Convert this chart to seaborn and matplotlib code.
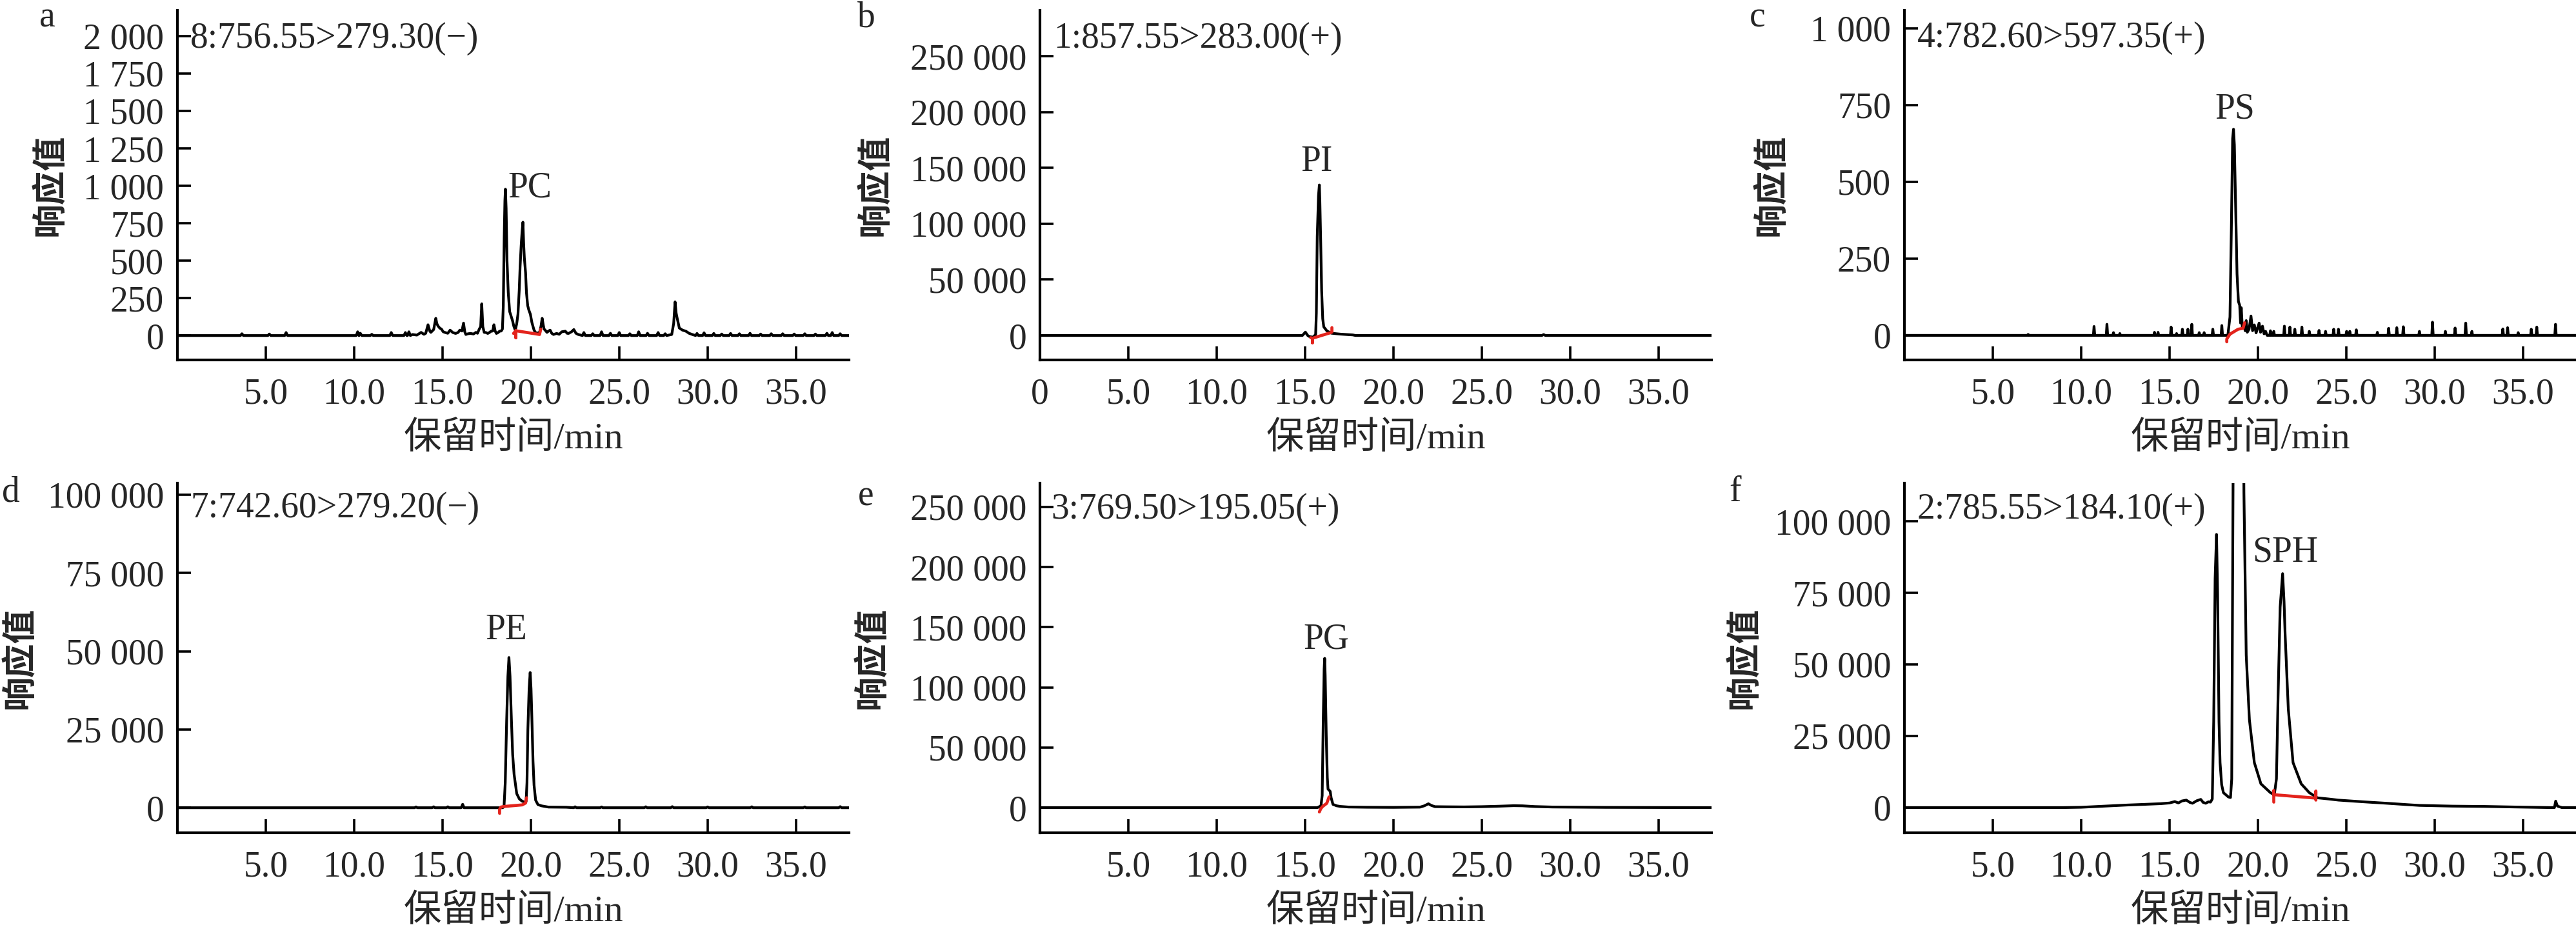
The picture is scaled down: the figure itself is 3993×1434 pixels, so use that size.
import matplotlib
matplotlib.use("Agg")
import matplotlib.pyplot as plt
import seaborn as sns

# ---- chromatogram traces (time in min, response) ----
a_time = [0, 13.30, 13.55, 13.79, 13.95, 14.05, 14.18, 14.28, 14.34, 14.50, 14.62, 14.68, 14.74, 14.84,
          14.94, 15.04, 15.13, 15.30, 15.43, 15.58, 15.74, 15.88, 15.98, 16.10, 16.19, 16.26, 16.32, 16.45,
          16.59, 16.75, 16.89, 16.98, 17.08, 17.16, 17.22, 17.28, 17.36, 17.46, 17.56, 17.65, 17.75, 17.84,
          17.91, 17.98, 18.05, 18.15, 18.23, 18.32, 18.39, 18.44, 18.49, 18.53, 18.56, 18.60, 18.65, 18.72,
          18.80, 18.88, 18.96, 19.04, 19.12, 19.20, 19.27, 19.34, 19.39, 19.45, 19.50, 19.55, 19.59, 19.63,
          19.70, 19.75, 19.82, 19.88, 19.97, 20.06, 20.18, 20.30, 20.40, 20.49, 20.57, 20.64, 20.70, 20.75,
          20.85, 20.91, 21.00, 21.09, 21.18, 21.28, 21.46, 21.60, 21.75, 21.95, 22.05, 22.13, 22.30, 22.43,
          22.55, 22.68, 27.97, 28.08, 28.16, 28.22, 28.28, 28.40, 28.58, 28.77, 28.95, 29.13, 38]
a_resp = [0, 7, 3, 21, 8, 15, 72, 30, 21, 40, 115, 80, 65, 50,
          43, 25, 21, 15, 36, 20, 14, 20, 36, 30, 83, 25, 7, 12,
          14, 10, 21, 15, 43, 60, 212, 60, 21, 20, 14, 20, 29, 30,
          72, 30, 14, 20, 29, 30, 43, 200, 650, 900, 978, 850, 500, 287,
          160, 130, 100, 60, 36, 80, 143, 300, 459, 600, 690, 757, 620, 520,
          420, 287, 200, 172, 143, 86, 36, 14, 18, 21, 60, 115, 70, 43,
          30, 21, 30, 36, 15, 7, 14, 8, 25, 29, 15, 14, 25, 40,
          15, 7, 7, 80, 225, 150, 115, 50, 36, 29, 15, 7, 0]
a_spike_time = [3.65, 5.2, 6.15, 10.2, 10.35, 11.0, 12.1, 12.9, 13.1, 23.0, 23.5, 24.0, 24.5, 25.0, 25.6,
                26.1, 26.6, 27.2, 27.6, 29.4, 29.8, 30.35, 30.8, 31.3, 31.8, 32.4, 33.0, 33.6, 34.25, 34.9,
                35.5, 36.1, 36.75, 37.05, 37.5]
a_spike_resp = [12, 10, 20, 25, 15, 8, 20, 20, 25, 20, 12, 25, 15, 20, 12,
                25, 15, 20, 12, 14, 18, 14, 10, 14, 12, 15, 10, 12, 12, 10,
                12, 10, 15, 20, 12]
a_red_time = [19.02, 19.15, 19.15, 19.15, 20.49, 20.56]
a_red_resp = [14, 32, -14, 32, 7, 43]

b_time = [0, 14.85, 15.02, 15.15, 15.25, 15.45, 15.55, 15.60, 15.64, 15.69, 15.76, 15.81, 15.84, 15.88,
          15.94, 16.00, 16.06, 16.24, 16.50, 17.00, 17.70, 17.85, 28.40, 28.50, 28.60, 38]
b_resp = [0, 0, 3000, 0, -1000, -1500, 0, 1000, 20000, 88500, 125000, 134700, 120000, 88500,
          40000, 15000, 7700, 4000, 2000, 1200, 500, 0, 0, 800, 0, 0]
b_red_time = [15.32, 15.42, 15.42, 15.42, 16.45, 16.52, 16.52]
b_red_resp = [-2000, -2500, -6500, -2500, 2500, 3000, 7000]

c_time = [0, 18.30, 18.42, 18.50, 18.57, 18.62, 18.67, 18.74, 18.82, 18.90, 18.97, 19.02, 19.06, 19.12,
          19.20, 19.28, 19.34, 19.40, 19.50, 19.61, 19.70, 19.80, 19.90, 20.07, 20.15, 20.26, 20.35, 20.44,
          20.52, 38]
c_resp = [0, 0, 60, 350, 640, 671, 620, 420, 200, 110, 98, 40, 90, 25,
          35, 15, 48, 10, 20, 63, 15, 34, 8, 40, 10, 30, 5, 13,
          0, 0]
c_spike_time = [7.0, 10.73, 11.46, 11.83, 12.19, 14.15, 14.35, 15.09, 15.40, 15.73, 16.04, 16.26, 16.68,
                16.96, 17.45, 17.96, 20.71, 20.90, 21.50, 21.81, 22.09, 22.49, 22.91, 23.46, 23.83, 24.29,
                24.56, 25.02, 25.20, 25.57, 26.76, 27.40, 27.86, 28.23, 29.14, 29.88, 30.61, 31.16, 31.76,
                32.11, 33.86, 34.13, 34.73, 35.47, 35.78, 36.84]
c_spike_resp = [3, 29, 36, 9, 6, 10, 10, 27, 6, 20, 20, 36, 9,
                9, 20, 32, 15, 13, 30, 27, 20, 27, 13, 16, 13, 20,
                20, 13, 13, 18, 10, 23, 25, 28, 13, 43, 13, 24, 40,
                13, 21, 25, 9, 20, 27, 36]
c_red_time = [18.24, 18.24, 18.42, 18.88, 19.16, 19.25]
c_red_resp = [-21, -12, 4, 20, 23, 41]

d_time = [0, 18.40, 18.48, 18.55, 18.63, 18.70, 18.76, 18.82, 18.90, 18.97, 19.05, 19.20, 19.35, 19.50,
          19.65, 19.73, 19.78, 19.83, 19.90, 19.96, 20.01, 20.06, 20.12, 20.18, 20.27, 20.40, 20.60, 21.00,
          22.00, 38]
d_resp = [0, 0, 300, 8000, 27900, 42000, 48000, 42000, 27900, 17000, 10700, 4500, 2800, 2100,
          1800, 2000, 8000, 25000, 38000, 43200, 38000, 27900, 15000, 7200, 2400, 1000, 600, 200,
          150, 0]
d_spike_time = [13.5, 14.5, 15.3, 16.14, 22.5, 24.0, 26.5, 28.0, 30.0, 32.5, 35.5, 37.5]
d_spike_resp = [250, 300, 300, 1100, 300, 250, 300, 350, 250, 300, 250, 350]
d_red_time = [18.23, 18.23, 18.30, 18.48, 19.51, 19.70, 19.75]
d_red_resp = [-1800, -500, 200, 400, 900, 1500, 3200]

e_time = [0, 15.70, 15.90, 15.97, 16.03, 16.08, 16.11, 16.14, 16.20, 16.26, 16.30, 16.36, 16.42, 16.48,
          16.58, 16.79, 17.00, 17.46, 18.50, 20.00, 21.50, 21.75, 21.98, 22.15, 22.35, 23.00, 24.00, 25.00,
          26.00, 26.80, 27.30, 28.00, 29.00, 30.00, 32.00, 35.00, 38]
e_resp = [0, 0, 1500, 10000, 72600, 115000, 124100, 110000, 60000, 25000, 15400, 14500, 13600, 8000,
          2700, 1500, 1000, 500, 300, 200, 400, 1500, 3200, 1800, 800, 700, 600, 800,
          1200, 1600, 1500, 900, 500, 400, 200, 100, 0]
e_red_time = [15.81, 15.89, 15.99, 16.23, 16.36]
e_red_resp = [-3600, -900, 900, 3600, 8900]

f_time = [0, 9.0, 10.0, 11.0, 12.65, 13.5, 14.48, 15.0, 15.3, 15.5, 15.7, 15.95, 16.15, 16.3, 16.55,
          16.77, 16.9, 17.05, 17.2, 17.32, 17.42, 17.50, 17.58, 17.66, 17.72, 17.80, 17.86, 17.95, 18.05,
          18.33, 18.45, 18.52, 18.60, 18.68, 18.80, 18.95, 19.10, 19.21, 19.34, 19.52, 19.80, 20.17, 20.71,
          20.93, 21.05, 21.14, 21.26, 21.40, 21.48, 21.54, 21.72, 21.99, 22.45, 22.91, 23.37, 24.0, 24.56,
          25.5, 26.5, 27.3, 28.5, 29.15, 31.0, 32.8, 34.5, 36.5, 36.78, 36.85, 36.95, 37.2, 38]
f_resp = [0, 0, 100, 400, 900, 1100, 1350, 1600, 2100, 1600, 2300, 2600, 1800, 1500, 2400,
          2850, 1800, 1500, 2000, 1900, 3000, 30000, 80000, 95400, 75000, 30000, 15700, 8000, 5200,
          3700, 3500, 10000, 120000, 260000, 330000, 330000, 220000, 110000, 53200, 30700, 15700, 8300, 5200,
          4500, 10000, 38200, 70000, 81700, 72000, 60700, 34500, 15700, 8300, 5200, 3400, 3000, 2600,
          2200, 1800, 1500, 1000, 750, 500, 400, 200, 0, 0, 2250, 500, 0, 0]
f_red_time = [20.90, 20.90, 20.90, 23.28, 23.28, 23.28]
f_red_resp = [1900, 5900, 4500, 3300, 5700, 2600]

# ---- text ----
panel_letters = ["a", "b", "c", "d", "e", "f"]
transitions = ["8:756.55>279.30(\u2212)", "1:857.55>283.00(+)", "4:782.60>597.35(+)",
               "7:742.60>279.20(\u2212)", "3:769.50>195.05(+)", "2:785.55>184.10(+)"]
peak_names = ["PC", "PI", "PS", "PE", "PG", "SPH"]
peak_label_time = [19.95, 15.65, 18.70, 18.62, 16.20, 21.56]
peak_label_resp = [986, 155500, 736, 56800, 140000, 89000]

x_ticks = [5, 10, 15, 20, 25, 30, 35]
x_tick_labels = ["5.0", "10.0", "15.0", "20.0", "25.0", "30.0", "35.0"]
y_ticks = [[0, 250, 500, 750, 1000, 1250, 1500, 1750, 2000],
           [0, 50000, 100000, 150000, 200000, 250000],
           [0, 250, 500, 750, 1000],
           [0, 25000, 50000, 75000, 100000],
           [0, 50000, 100000, 150000, 200000, 250000],
           [0, 25000, 50000, 75000, 100000]]
y_limits = [(-163, 2172), (-21900, 291000), (-80, 1058), (-8000, 103700), (-20900, 269800), (-8800, 113300)]


def with_spikes(times, resp, spike_t, spike_h, half=0.07):
    # merge narrow noise spikes into a trace
    pts = list(zip(times, resp))
    for t, h in zip(spike_t, spike_h):
        pts += [(t - half, 0), (t, h), (t + half, 0)]
    pts.sort()
    return [p[0] for p in pts], [p[1] for p in pts]


def thousands(v):
    return f"{v:,}".replace(",", " ")


traces = [
    with_spikes(a_time, a_resp, a_spike_time, a_spike_resp, 0.08),
    (b_time, b_resp),
    with_spikes(c_time, c_resp, c_spike_time, c_spike_resp, 0.04),
    with_spikes(d_time, d_resp, d_spike_time, d_spike_resp, 0.08),
    (e_time, e_resp),
    (f_time, f_resp),
]
reds = [(a_red_time, a_red_resp), (b_red_time, b_red_resp), (c_red_time, c_red_resp),
        (d_red_time, d_red_resp), (e_red_time, e_red_resp), (f_red_time, f_red_resp)]

sns.set_theme(style="ticks")
plt.rcParams["font.family"] = ["Liberation Serif", "Noto Sans CJK SC"]
plt.rcParams["axes.unicode_minus"] = True

W, H = 3993, 1434
fig = plt.figure(figsize=(W / 100, H / 100), dpi=100)

# axes boxes in pixels: left, top, right, bottom
boxes = [(275, 16, 1316, 558), (1612, 16, 2653, 558), (2952, 16, 3993, 558),
         (275, 749, 1316, 1291), (1612, 749, 2653, 1291), (2952, 749, 3993, 1291)]
ylabel_x = [104, 1383, 2772, 57, 1378, 2730]
letter_pos = [(73, 27), (1343, 27), (2724, 27), (17, 763), (1342, 770), (2690, 763)]
trans_pos = [(295, 60), (1633, 60), (2972, 59), (295, 788), (1629, 790), (2972, 790)]

for i in range(6):
    l, t, r, b = boxes[i]
    ax = fig.add_axes([l / W, 1 - b / H, (r - l) / W, (b - t) / H])
    tx, ty = traces[i]
    sns.lineplot(x=tx, y=ty, ax=ax, color="black", linewidth=3.0, sort=False, estimator=None)
    rx, ry = reds[i]
    sns.lineplot(x=rx, y=ry, ax=ax, color="#e3231c", linewidth=3.4, sort=False, estimator=None)

    ax.set_xlim(0, 38)
    ax.set_ylim(*y_limits[i])
    if i == 1:
        ax.set_xticks([0] + x_ticks, ["0"] + x_tick_labels)
    else:
        ax.set_xticks(x_ticks, x_tick_labels)
    ax.set_yticks(y_ticks[i], [thousands(v) for v in y_ticks[i]])
    ax.tick_params(direction="in", length=15, width=2.6, labelsize=40, color="black")
    ax.tick_params(axis="x", pad=20)
    ax.tick_params(axis="y", pad=15)
    for side in ["top", "right"]:
        ax.spines[side].set_visible(False)
    for side in ["left", "bottom"]:
        ax.spines[side].set_linewidth(3.0)
        ax.spines[side].set_color("black")

    ax.set_xlabel("保留时间/min", fontsize=42)
    ax.xaxis.set_label_coords((l + r) / 2 / W, 1 - (b + 95) / H, transform=fig.transFigure)
    ax.set_ylabel("响应值", fontsize=38, fontweight="bold")
    ax.yaxis.set_label_coords(ylabel_x[i] / W, 1 - (t + b) / 2 / H, transform=fig.transFigure)

    ax.text(peak_label_time[i], peak_label_resp[i], peak_names[i], fontsize=40,
            ha="center", va="center")
    fig.text(trans_pos[i][0] / W, 1 - trans_pos[i][1] / H, transitions[i], fontsize=40,
             ha="left", va="center")
    fig.text(letter_pos[i][0] / W, 1 - letter_pos[i][1] / H, panel_letters[i], fontsize=40,
             ha="center", va="center")

fig.savefig("out.png", dpi=100, facecolor="white")
